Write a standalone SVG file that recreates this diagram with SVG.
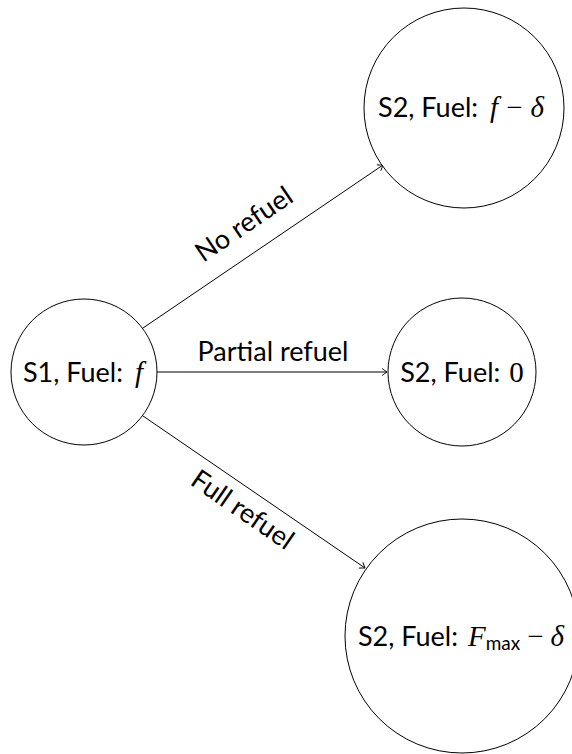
<svg xmlns="http://www.w3.org/2000/svg" width="572" height="754" viewBox="0 0 572 754">
<style>
.node{fill:#fff;stroke:#000;stroke-width:1}
.t{font-family:Lato,"Open Sans","Liberation Sans",sans-serif;font-size:27px;fill:#000;text-anchor:middle}
.m{font-family:"Liberation Serif","DejaVu Serif",serif;font-style:italic;font-size:29px}
.r{font-family:"Liberation Serif","DejaVu Serif",serif;font-style:normal;font-size:29px}
.sub{font-size:19px}
.e{stroke:#000;stroke-width:1;fill:none;marker-end:url(#arr)}
</style>
<defs>
<marker id="arr" viewBox="-6 -5 8 10" markerWidth="8" markerHeight="10" refX="0" refY="0" orient="auto" markerUnits="userSpaceOnUse">
<path d="M -5 -3.5 Q -1.5 -1 0 0 Q -1.5 1 -5 3.5" fill="none" stroke="#000" stroke-width="0.9"/>
</marker>
</defs>
<rect width="572" height="754" fill="#fff"/>
<g id="edges">
<line class="e" x1="143" y1="328" x2="383" y2="165"/>
<line class="e" x1="156" y1="372" x2="387" y2="372"/>
<line class="e" x1="143" y1="416" x2="365" y2="568"/>
<text class="t" transform="translate(252,236) rotate(-34.2)" x="0" y="-5">No refuel</text>
<text class="t" x="273" y="361">Partial refuel</text>
<text class="t" transform="translate(243,509) rotate(34.6)" x="0" y="10">Full refuel</text>
</g>
<g id="s1">
<circle class="node" cx="84" cy="372" r="73"/>
<text class="t" x="83" y="382">S1, Fuel:<tspan class="m" dx="12">f</tspan></text>
</g>
<g id="s2a">
<circle class="node" cx="464" cy="108" r="100"/>
<text class="t" x="461" y="117">S2, Fuel:<tspan class="m" dx="12">f</tspan><tspan class="r" dx="8">−</tspan><tspan class="m" dx="8">δ</tspan></text>
</g>
<g id="s2b">
<circle class="node" cx="462" cy="372" r="74"/>
<text class="t" x="462" y="382">S2, Fuel:<tspan class="r" dx="9">0</tspan></text>
</g>
<g id="s2c">
<circle class="node" cx="462" cy="636" r="117"/>
<text class="t" x="461" y="646">S2, Fuel:<tspan class="m" dx="10">F</tspan><tspan class="sub" dy="4">max</tspan><tspan class="r" dy="-4" dx="7">−</tspan><tspan class="m" dx="7">δ</tspan></text>
</g>
</svg>
